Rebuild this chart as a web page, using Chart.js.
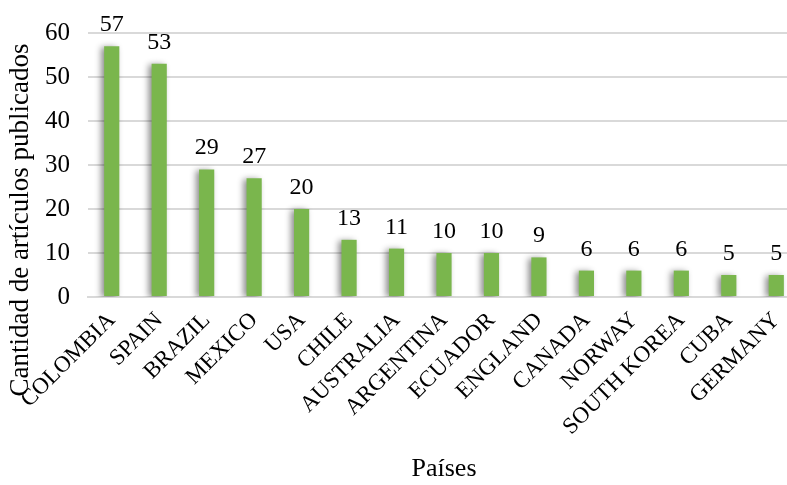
<!DOCTYPE html>
<html>
<head>
<meta charset="utf-8">
<script src="https://cdn.jsdelivr.net/npm/chart.js@4/dist/chart.umd.min.js"></script>
<style>
  html, body { margin: 0; padding: 0; overflow: hidden; background: #fff; }
  #wrap { position: absolute; left: 0; top: 0; width: 800px; height: 485px; }
</style>
</head>
<body>
<div id="wrap"><canvas id="myChart"></canvas></div>
<script>
var countries = ['COLOMBIA', 'SPAIN', 'BRAZIL', 'MEXICO', 'USA', 'CHILE', 'AUSTRALIA', 'ARGENTINA',
                 'ECUADOR', 'ENGLAND', 'CANADA', 'NORWAY', 'SOUTH KOREA', 'CUBA', 'GERMANY'];
var articles = [57, 53, 29, 27, 20, 13, 11, 10, 10, 9, 6, 6, 6, 5, 5];
var yTicks = [0, 10, 20, 30, 40, 50, 60];
var yTitle = 'Cantidad de artículos publicados';

var serif = '"Liberation Serif", "Times New Roman", serif';

// shadow behind the bars, like the office 3d look
var barShadow = {
  id: 'barShadow',
  beforeDatasetsDraw: function(chart) {
    var c = chart.ctx;
    c.save();
    c.shadowColor = 'rgba(0,0,0,0.45)';
    c.shadowBlur = 6;
    c.shadowOffsetX = -3;
    c.shadowOffsetY = 1;
  },
  afterDatasetsDraw: function(chart) {
    chart.ctx.restore();
  }
};

// value labels on top of each bar + y title (centred on the whole figure, not the axis)
var topLabels = {
  id: 'topLabels',
  afterDatasetsDraw: function(chart) {
    var c = chart.ctx;
    var meta = chart.getDatasetMeta(0);
    c.save();
    c.font = '24px ' + serif;
    c.fillStyle = '#000';
    c.textAlign = 'center';
    c.textBaseline = 'alphabetic';
    meta.data.forEach(function(bar, i) {
      c.fillText(articles[i], bar.x, bar.y - 15);
    });
    c.restore();

    c.save();
    c.font = '27px ' + serif;
    c.fillStyle = '#000';
    c.textAlign = 'center';
    c.textBaseline = 'middle';
    c.translate(21, 220);
    c.rotate(-Math.PI / 2);
    c.fillText(yTitle, 0, 0);
    c.restore();
  }
};

var ctx = document.getElementById('myChart');
new Chart(ctx, {
  type: 'bar',
  data: {
    labels: countries,
    datasets: [{
      label: 'Cantidad',
      data: articles,
      backgroundColor: '#7ab64d',
      borderWidth: 0,
      categoryPercentage: 1,
      barPercentage: 0.32
    }]
  },
  options: {
    responsive: true,
    maintainAspectRatio: false,
    animation: false,
    layout: { padding: { top: 33, right: 0, bottom: 0, left: 0 } },
    plugins: {
      legend: { display: false },
      tooltip: { enabled: false }
    },
    scales: {
      x: {
        afterFit: function(scale) { scale.height = 188; },
        grid: { display: false },
        border: { color: '#d9d9d9', width: 2 },
        ticks: {
          color: '#000',
          font: { family: serif, size: 23 },
          minRotation: 45,
          maxRotation: 45,
          autoSkip: false,
          padding: 2
        },
        title: {
          display: true,
          text: 'Países',
          color: '#000',
          font: { family: serif, size: 26 },
          padding: { top: 0, bottom: 0 }
        }
      },
      y: {
        min: 0,
        max: 60,
        afterBuildTicks: function(scale) {
          scale.ticks = yTicks.map(function(v) { return { value: v }; });
        },
        afterFit: function(scale) { scale.width = 88; },
        grid: { color: '#d9d9d9', lineWidth: 2, drawTicks: false },
        border: { display: false },
        ticks: {
          color: '#000',
          font: { family: serif, size: 25 },
          padding: 18
        }
      }
    }
  },
  plugins: [barShadow, topLabels]
});
</script>
</body>
</html>
